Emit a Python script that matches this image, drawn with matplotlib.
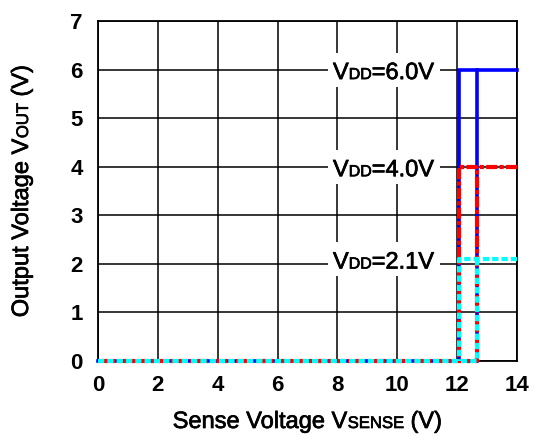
import matplotlib
matplotlib.use("Agg")
import matplotlib.pyplot as plt
import matplotlib.patheffects as pe
import matplotlib.transforms as mtransforms
from matplotlib.patches import Rectangle

# ── data ─────────────────────────────────────────────────────────────────────
vdd_levels = [6.0, 4.0, 2.1]
vdd_labels = ["6.0V", "4.0V", "2.1V"]
v_detect = 12.07    # falling edge (output drops to 0)
v_release = 12.66   # rising edge (output goes to VDD)
x_min, x_max = 0, 14

plt.rcParams["font.family"] = ["Liberation Sans", "DejaVu Sans"]
plt.rcParams["lines.scale_dashes"] = False

fig = plt.figure(figsize=(5.33, 4.37), dpi=100)
ax = fig.add_axes([98 / 533, 1 - 361 / 437, 419 / 533, 340 / 437])
ax.set_xlim(0, 14)
ax.set_ylim(0, 7)
ax.set_xticks(range(0, 15, 2))
ax.set_yticks(range(0, 8))
ax.grid(True, color="black", linewidth=1.1)
ax.set_axisbelow(True)
for s in ax.spines.values():
    s.set_linewidth(1.3)
ax.tick_params(length=0, labelsize=16)
ax.tick_params(axis="x", pad=10)
ax.tick_params(axis="y", pad=11)
for lab in ax.get_xticklabels() + ax.get_yticklabels():
    lab.set_fontweight("bold")

styles = [
    dict(color="#0000ff", linewidth=2.6, linestyle="-"),
    dict(color="#ff0000", linewidth=3.0, linestyle=(0, (8, 1.6, 3, 1.6))),
    dict(color="#00ffff", linewidth=3.0, linestyle=(0, (4.5, 2.2))),
]
for v, st in zip(vdd_levels, styles):
    # rising sweep: low until release voltage, then jumps to VDD
    ax.plot([x_min, v_release, v_release], [0, 0, v], zorder=3, clip_on=False,
            solid_joinstyle="miter", **st)
    # falling sweep: high down to detect voltage, then drops to 0
    ax.plot([x_max, v_detect, v_detect], [v, v, 0], zorder=3, clip_on=False,
            solid_joinstyle="miter", **st)

renderer = fig.canvas.get_renderer()
heavy = [pe.withStroke(linewidth=0.5, foreground="black")]


def rich_text(x, y, parts, transform, rotation=0, center=True, dx=0, dy=0):
    """Draw pieces (text, size) next to each other on a shared baseline."""
    widths = []
    for s, size in parts:
        t = fig.text(0, 0, s, fontsize=size)
        widths.append(t.get_window_extent(renderer).width)
        t.remove()
    off = -sum(widths) / 2 if center else 0
    texts = []
    for (s, size), w in zip(parts, widths):
        if rotation == 0:
            tr = mtransforms.offset_copy(transform, fig, x=dx + off, y=dy, units="dots")
        else:
            tr = mtransforms.offset_copy(transform, fig, x=dx, y=dy + off, units="dots")
        t = fig.text(x, y, s, fontsize=size, transform=tr, ha="left", va="baseline",
                     rotation=rotation, rotation_mode="anchor", zorder=5,
                     path_effects=heavy)
        texts.append(t)
        off += w
    return texts


# axis labels
rich_text(0.5, 0, [("Sense Voltage V", 17), ("SENSE", 12), (" (V)", 17)],
          ax.transAxes, dy=-(428 - 361))
rich_text(0, 0.5, [("Output Voltage V", 17), ("OUT", 12), (" (V)", 17)],
          ax.transAxes, rotation=90, dx=-(98 - 28))

# VDD labels with white background
for v, lab in zip(vdd_levels, vdd_labels):
    texts = rich_text(7.85, v, [("V", 17), ("DD", 11.5), ("=" + lab, 17)],
                      ax.transData, center=False, dy=-9.5)
    fig.canvas.draw()
    ext = [t.get_window_extent(renderer) for t in texts]
    x0 = min(e.x0 for e in ext) - 5
    x1 = max(e.x1 for e in ext) + 6
    yc = ax.transData.transform((0, v))[1]
    inv = ax.transData.inverted()
    (dx0, dy0) = inv.transform((x0, yc - 17))
    (dx1, dy1) = inv.transform((x1, yc + 17))
    ax.add_patch(Rectangle((dx0, dy0), dx1 - dx0, dy1 - dy0, facecolor="white",
                           edgecolor="none", zorder=2.7))

fig.savefig("out.png", dpi=100)
